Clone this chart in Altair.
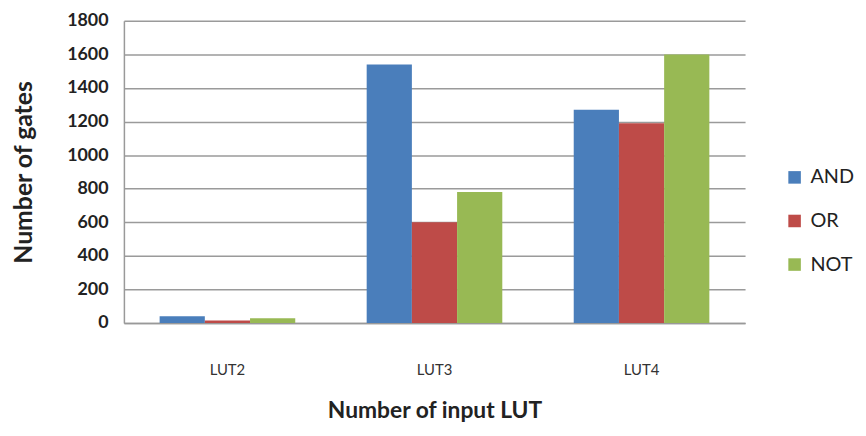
import altair as alt
import pandas as pd

categories = ["LUT2", "LUT3", "LUT4"]
series = ["AND", "OR", "NOT"]
and_vals = [40, 1540, 1270]
or_vals = [15, 600, 1190]
not_vals = [28, 780, 1600]
colors = ["#4a7ebb", "#be4b48", "#98b954"]

rows = []
for i, c in enumerate(categories):
    for s, vals in zip(series, [and_vals, or_vals, not_vals]):
        rows.append({"lut": c, "gate": s, "value": vals[i]})
df = pd.DataFrame(rows)

font = "Lato"

chart = alt.Chart(df).mark_bar().encode(
    x=alt.X("lut:N", sort=categories, title="Number of input LUT",
            scale=alt.Scale(paddingInner=0.345, paddingOuter=0.1725),
            axis=alt.Axis(labelAngle=0, ticks=False, labelPadding=40,
                          labelFontSize=15, labelColor="#333333", labelFont=font,
                          titleFont=font, titleFontSize=23, titleFontWeight="bold",
                          titleColor="#222222", titlePadding=22,
                          domainColor="#999999", domainWidth=1.5, grid=False)),
    xOffset=alt.XOffset("gate:N", sort=series, scale=alt.Scale(paddingInner=0, paddingOuter=0)),
    y=alt.Y("value:Q", title="Number of gates",
            scale=alt.Scale(domain=[0, 1800], nice=False),
            axis=alt.Axis(values=list(range(0, 1801, 200)), format="d", ticks=False,
                          labelPadding=16,
                          labelFontSize=18, labelFontWeight="bold", labelColor="#222222",
                          labelFont=font, titleFont=font, titleFontSize=25,
                          titleFontWeight="bold", titleColor="#222222",
                          titleX=-88, gridColor="#9a9a9a", gridWidth=1.5,
                          domainColor="#999999", domainWidth=1.5)),
    color=alt.Color("gate:N", sort=series,
                    scale=alt.Scale(domain=series, range=colors),
                    legend=alt.Legend(title=None, orient="none", legendX=667, legendY=148,
                                      symbolType="square", symbolSize=160,
                                      symbolStrokeWidth=0, labelFontSize=20,
                                      labelFont=font, labelColor="#222222",
                                      rowPadding=24, labelOffset=6)),
).properties(
    width=627, height=305,
    autosize=alt.AutoSizeParams(type="none"),
    padding={"left": 117, "top": 11, "right": 114, "bottom": 104},
).configure_view(stroke=None)

chart.save("out.html", embed_options={"renderer": "svg", "actions": False})
